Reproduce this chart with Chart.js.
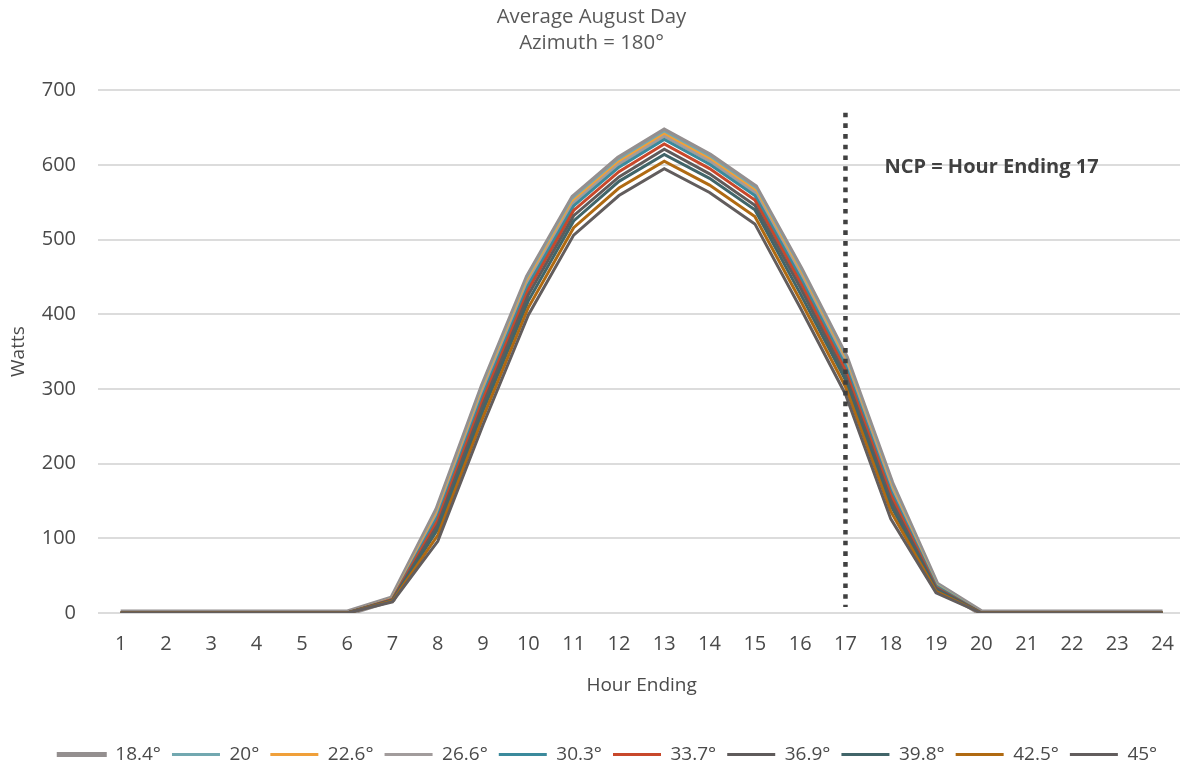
<!DOCTYPE html>
<html>
<head>
<meta charset="utf-8">
<script src="https://cdn.jsdelivr.net/npm/chart.js@4/dist/chart.umd.min.js"></script>
<style>
  html, body { margin: 0; padding: 0; background: #ffffff; overflow: hidden; }
  #wrap { position: relative; width: 1193px; height: 774px; }
</style>
</head>
<body>
<div id="wrap"><canvas id="c" width="1193" height="774"></canvas></div>
<script>
// Hour-ending categories
const hours = ['1','2','3','4','5','6','7','8','9','10','11','12','13','14','15','16','17','18','19','20','21','22','23','24'];

// Panel tilt labels
const tiltLabels = ['18.4°','20°','22.6°','26.6°','30.3°','33.7°','36.9°','39.8°','42.5°','45°'];

// Average August day output (Watts) per tilt
const tilt184 = [0,0,0,0,0,0,19,138,303,450,556,608,645,612,570,460,342,174,38,0,0,0,0,0];
const tilt20  = [0,0,0,0,0,0,19,136,301,448,554,606,643,610,568,458,340,172,38,0,0,0,0,0];
const tilt226 = [0,0,0,0,0,0,19,135,299,446,552,604,641,608,566,456,338,170,37,0,0,0,0,0];
const tilt266 = [0,0,0,0,0,0,18,132,296,443,549,601,638,605,563,453,335,167,36,0,0,0,0,0];
const tilt303 = [0,0,0,0,0,0,18,129,292,439,545,597,634,601,559,449,331,163,36,0,0,0,0,0];
const tilt337 = [0,0,0,0,0,0,18,124,286,433,539,591,628,595,553,443,325,158,34,0,0,0,0,0];
const tilt369 = [0,0,0,0,0,0,17,118,279,426,532,584,621,588,546,436,318,151,33,0,0,0,0,0];
const tilt398 = [0,0,0,0,0,0,17,112,271,418,525,578,614,582,540,428,312,144,31,0,0,0,0,0];
const tilt425 = [0,0,0,0,0,0,16,104,262,409,516,569,605,573,531,419,303,136,29,0,0,0,0,0];
const tilt45  = [0,0,0,0,0,0,15,96,252,399,506,559,595,563,521,409,293,126,27,0,0,0,0,0];

const seriesValues = [tilt184, tilt20, tilt226, tilt266, tilt303, tilt337, tilt369, tilt398, tilt425, tilt45];
const seriesColors = ['#948f8f','#72a8b0','#f0a03a','#a29c9c','#3b8a9c','#c8482b','#5f5b5b','#416569','#b06a12','#625d5d'];
const seriesWidths = [7, 3, 3, 3, 3, 3, 3, 3, 3, 3];

// Value axis range
const yMin = 0, yMax = 700, yStep = 100;

// NCP marker
const ncpHour = '17';
const ncpTop = 670;
const ncpBottom = 8;
const ncpText = 'NCP = Hour Ending 17';
const ncpTextValue = 597;

const textColor = '#595959';
const tickColor = '#4a4a4a';
const family = '"Open Sans", "Liberation Sans", sans-serif';

const datasets = seriesValues.map((vals, i) => ({
  label: tiltLabels[i],
  data: vals,
  borderColor: seriesColors[i],
  backgroundColor: seriesColors[i],
  borderWidth: seriesWidths[i],
  pointRadius: 0,
  pointHoverRadius: 0,
  tension: 0,
  fill: false,
  order: seriesValues.length - i   // later series drawn on top
}));

// Dotted NCP hour marker with its caption
const ncpMarker = {
  id: 'ncpMarker',
  afterDatasetsDraw(chart) {
    const { ctx, scales: { x, y } } = chart;
    const px = x.getPixelForValue(hours.indexOf(ncpHour));
    ctx.save();
    ctx.strokeStyle = '#404040';
    ctx.lineWidth = 4.5;
    ctx.lineCap = 'butt';
    ctx.setLineDash([4.6, 6.1]);
    ctx.beginPath();
    ctx.moveTo(px, y.getPixelForValue(ncpTop));
    ctx.lineTo(px, y.getPixelForValue(ncpBottom));
    ctx.stroke();
    ctx.setLineDash([]);
    ctx.font = 'bold 20px ' + family;
    ctx.fillStyle = '#404040';
    ctx.textBaseline = 'middle';
    ctx.textAlign = 'left';
    ctx.fillText(ncpText, px + 39, y.getPixelForValue(ncpTextValue));
    ctx.restore();
  }
};

// Horizontal placement of the title block and the legend row
const boxNudge = {
  id: 'boxNudge',
  afterLayout(chart) {
    chart.legend.left += 11;
    chart.legend.right += 11;
    chart.titleBlock.left -= 5;
    chart.titleBlock.right -= 5;
  }
};

new Chart(document.getElementById('c'), {
  type: 'line',
  data: { labels: hours, datasets },
  plugins: [ncpMarker, boxNudge],
  options: {
    responsive: false,
    animation: false,
    devicePixelRatio: 1,
    layout: { padding: { left: 0, right: 0, top: 0, bottom: 0 } },
    plugins: {
      tooltip: { enabled: false },
      title: {
        display: true,
        text: ['Average August Day', 'Azimuth = 180°'],
        color: textColor,
        font: { family, size: 20.4, weight: '400', lineHeight: 1.28 },
        padding: { top: 4, bottom: 34 }
      },
      legend: {
        position: 'bottom',
        align: 'center',
        labels: {
          color: tickColor,
          font: { family, size: 19 },
          boxWidth: 48,
          boxHeight: 3,
          padding: 11,
          generateLabels(chart) {
            const items = Chart.defaults.plugins.legend.labels.generateLabels(chart);
            return items.map(it => {
              const c = seriesColors[it.datasetIndex];
              it.fillStyle = c;
              it.strokeStyle = c;
              it.lineWidth = it.datasetIndex === 0 ? 2 : 0;
              return it;
            });
          },
          sort: (a, b) => a.datasetIndex - b.datasetIndex
        }
      }
    },
    scales: {
      x: {
        type: 'category',
        offset: true,
        grid: { display: false, drawTicks: false },
        border: { display: false },
        ticks: { color: tickColor, font: { family, size: 20 }, padding: 19, maxRotation: 0, autoSkip: false },
        title: {
          display: true,
          text: 'Hour Ending',
          color: tickColor,
          font: { family, size: 19, lineHeight: 1.2 },
          padding: { top: 0, bottom: 37 }
        },
        afterFit(scale) { scale.height = 121; }
      },
      y: {
        min: yMin,
        max: yMax,
        ticks: { stepSize: yStep, color: tickColor, font: { family, size: 20 }, padding: 22 },
        grid: { color: '#dcdcdc', lineWidth: 2, drawTicks: false },
        border: { display: false },
        title: {
          display: true,
          text: 'Watts',
          color: tickColor,
          font: { family, size: 19, lineHeight: 1.2 },
          padding: { top: 7, bottom: 0 }
        },
        afterFit(scale) { scale.width = 98; }
      }
    }
  }
});
</script>
</body>
</html>
